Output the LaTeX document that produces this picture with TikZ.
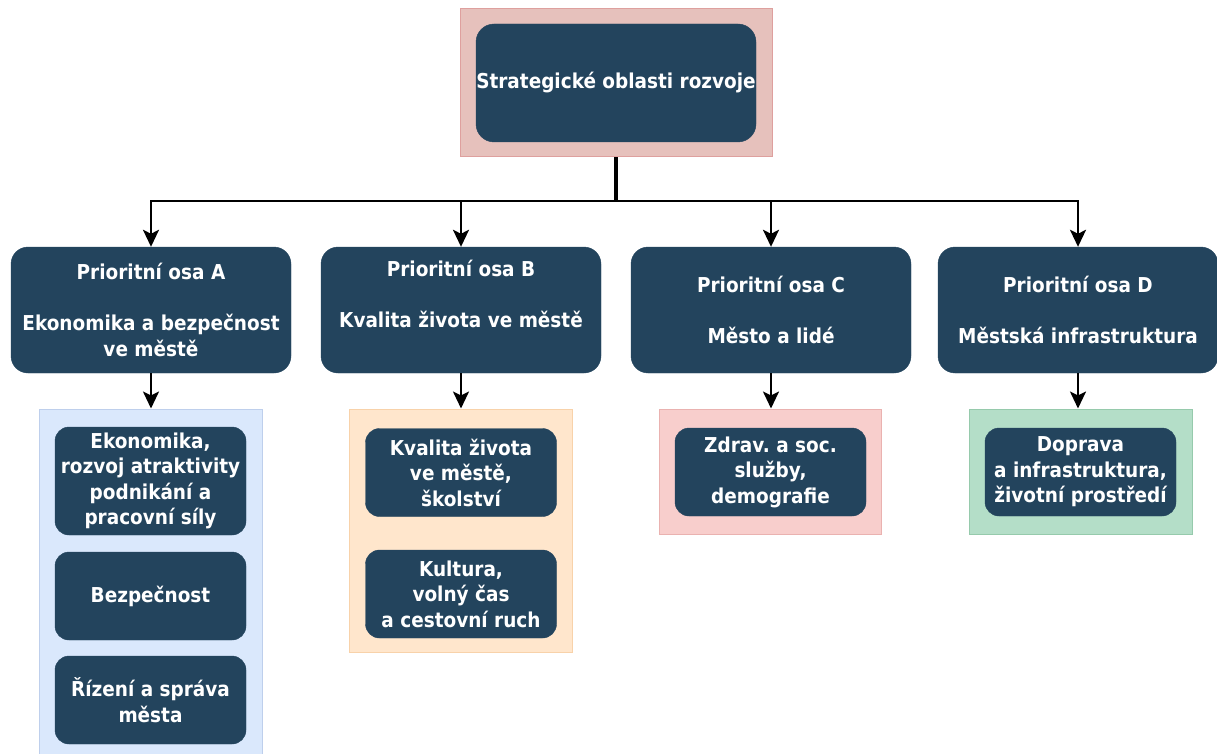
\documentclass[tikz,border=0pt]{standalone}
\usepackage{fontspec}
\setmainfont{DejaVu Sans}[FakeStretch=0.9]
\frenchspacing
\usetikzlibrary{positioning,arrows.meta}
\definecolor{navy}{RGB}{35,68,93}
\definecolor{rosefill}{RGB}{230,193,188}
\definecolor{roseline}{RGB}{222,160,158}
\definecolor{bluefill}{RGB}{218,232,252}
\definecolor{blueline}{RGB}{190,207,236}
\definecolor{peachfill}{RGB}{255,230,204}
\definecolor{peachline}{RGB}{248,210,170}
\definecolor{pinkfill}{RGB}{248,206,204}
\definecolor{pinkline}{RGB}{234,178,176}
\definecolor{mintfill}{RGB}{180,222,200}
\definecolor{mintline}{RGB}{150,202,172}

\begin{document}
\begin{tikzpicture}[x=1pt,y=-1pt,
  box/.style={draw=navy,fill=navy,rounded corners=17pt,text=white,
    font=\fontsize{20.5}{25.5}\selectfont\bfseries,align=center,inner sep=0pt},
  axis/.style={box,minimum width=280pt,minimum height=126pt},
  topic/.style={box,rounded corners=14pt,minimum width=191pt,minimum height=88pt},
  group/.style={rectangle,inner sep=0pt,line width=1pt},
  arr/.style={-{Stealth[length=17pt,width=16pt,inset=4pt]},line width=2.5pt}]
\useasboundingbox (0,0) rectangle (1217,754);
% Top of the tree
\node [group,fill=rosefill,draw=roseline,minimum width=312pt,minimum height=148pt] (top) at (616,83) {};
\node [box,rounded corners=18pt,minimum width=280pt,minimum height=118pt] (strat) at (616,83) {Strategické oblasti rozvoje};
% The four axes
\node [axis] (axA) at (151,310) {Prioritní osa A\\[25.5pt]Ekonomika a bezpečnost\\ve městě};
\node [axis] (axB) at (461,310) {Prioritní osa B\\[25.5pt]Kvalita života ve městě\\\strut};
\node [axis] (axC) at (771,310) {Prioritní osa C\\[25.5pt]Město a lidé};
\node [axis] (axD) at (1078,310) {Prioritní osa D\\[25.5pt]Městská infrastruktura};
% Coloured groups under the axes
\node [group,fill=bluefill,draw=blueline,minimum width=223pt,minimum height=348pt] (grpA) at (150.5,583) {};
\node [group,fill=peachfill,draw=peachline,minimum width=223pt,minimum height=243pt] (grpB) at (460.5,530.5) {};
\node [group,fill=pinkfill,draw=pinkline,minimum width=222pt,minimum height=125pt] (grpC) at (770,471.5) {};
\node [group,fill=mintfill,draw=mintline,minimum width=223pt,minimum height=125pt] (grpD) at (1080.5,471.5) {};
% Topics in the groups
\node [topic,minimum height=108pt] (a1) at (150.5,481) {Ekonomika,\\rozvoj atraktivity\\podnikání a\\pracovní síly};
\node [topic] (a2) at (150.5,596) {Bezpečnost};
\node [topic] (a3) at (150.5,700) {Řízení a správa\\města};
\node [topic] (b1) at (461,472.5) {Kvalita života\\ve městě,\\školství};
\node [topic] (b2) at (461,594) {Kultura,\\volný čas\\a cestovní ruch};
\node [topic] (c1) at (770.5,472) {Zdrav. a soc.\\služby,\\demografie};
\node [topic] (d1) at (1080.5,472) {Doprava\\a infrastruktura,\\životní prostředí};
% Connectors
\coordinate (bus) at (616,201);
\draw [line width=4pt] (top.south) -- (bus);
\foreach \ax in {axA,axB,axC,axD}
  \draw [arr] (bus) -| (\ax.north);
\draw [arr] (axA.south) -- (axA.south |- grpA.north);
\draw [arr] (axB.south) -- (axB.south |- grpB.north);
\draw [arr] (axC.south) -- (axC.south |- grpC.north);
\draw [arr] (axD.south) -- (axD.south |- grpD.north);
\end{tikzpicture}
\end{document}
